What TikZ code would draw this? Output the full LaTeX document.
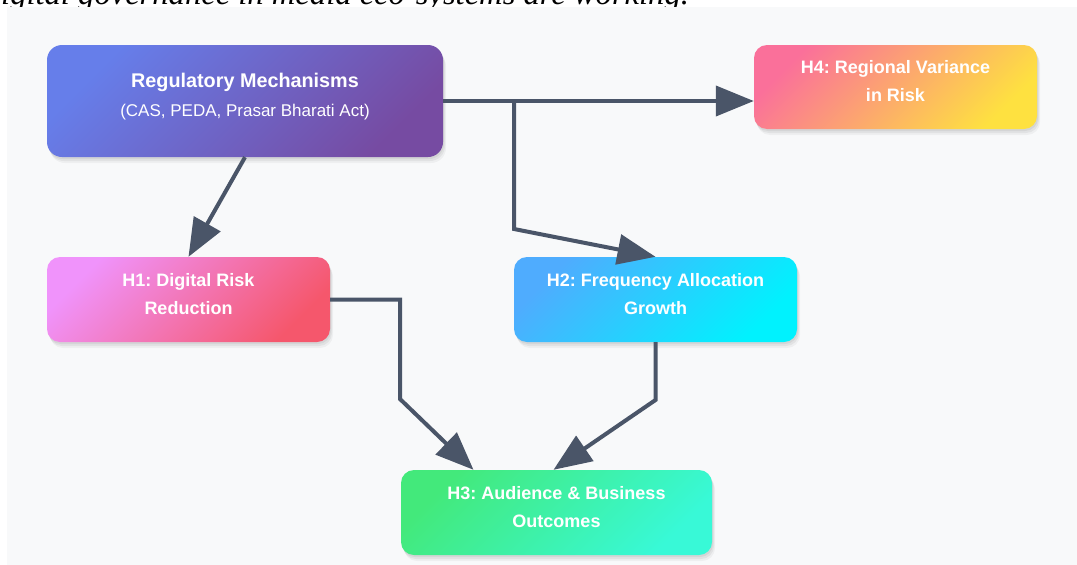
\documentclass[tikz,border=0pt]{standalone}
\usepackage{fontspec}
\setmainfont{Liberation Sans}
\newfontfamily\topserif{Liberation Serif}
\usetikzlibrary{arrows.meta,shadows}
\frenchspacing
\definecolor{bgpanel}{HTML}{F8F9FA}
\definecolor{lineC}{HTML}{4A5568}
\definecolor{regA}{HTML}{667EEA}
\definecolor{regB}{HTML}{764BA2}
\definecolor{hfourA}{HTML}{FA709A}
\definecolor{hfourB}{HTML}{FEE140}
\definecolor{honeA}{HTML}{F093FB}
\definecolor{honeB}{HTML}{F5576C}
\definecolor{htwoA}{HTML}{4FACFE}
\definecolor{htwoB}{HTML}{00F2FE}
\definecolor{hthreeA}{HTML}{43E97B}
\definecolor{hthreeB}{HTML}{38F9D7}
\begin{document}
\begin{tikzpicture}[x=1pt,y=-1pt,
  softshadow/.style={
    drop shadow={shadow xshift=1pt, shadow yshift=-2pt, opacity=0.06, fill=black},
    drop shadow={shadow xshift=2pt, shadow yshift=-4pt, opacity=0.05, fill=black},
    drop shadow={shadow xshift=3pt, shadow yshift=-6pt, opacity=0.04, fill=black}},
  box/.style={rectangle, rounded corners=13pt, text=white, align=center,
    minimum width=283pt, minimum height=85pt, inner sep=0pt,
    font=\bfseries\fontsize{18}{27.5}\selectfont,
    text height=29pt, text depth=0pt, shading angle=45, softshadow},
  conn/.style={draw=lineC, line width=4pt, -{Triangle[length=38pt,width=30pt]}}
]
\clip (0,0) rectangle (1077,565);
\node[anchor=base west, inner sep=0pt, font=\topserif\itshape\fontsize{32.6}{32}\selectfont] (caption) at (1,4.3) {igital governance in media eco-systems are working.};
\fill[bgpanel] (7,7) rectangle (1077,565);

\node[box, rounded corners=15pt, minimum width=396pt, minimum height=112pt,
  top color=regA, bottom color=regB, shading angle=45,
  font=\bfseries\fontsize{19.8}{29}\selectfont, text height=30pt, text depth=0pt]
  (reg) at (245,101) {Regulatory Mechanisms\\{\mdseries\fontsize{17}{29}\selectfont (CAS, PEDA, Prasar Bharati Act)}};
\node[box, minimum height=84pt, top color=hfourA, bottom color=hfourB, shading angle=45, text height=28pt]
  (h4) at (895.5,87) {H4: Regional Variance\\in Risk};
\node[box, top color=honeA, bottom color=honeB, shading angle=45]
  (h1) at (188.5,299.5) {H1: Digital Risk\\Reduction};
\node[box, top color=htwoA, bottom color=htwoB, shading angle=45]
  (h2) at (655.5,299.5) {H2: Frequency Allocation\\Growth};
\node[box, minimum width=311pt, top color=hthreeA, bottom color=hthreeB, shading angle=45]
  (h3) at (556.5,512.5) {H3: Audience \& Business\\Outcomes};

\coordinate (split) at (514,101);
\coordinate (bendtwo) at (514,229);
\coordinate (bendone) at (400,299.5);
\coordinate (bendonedown) at (400,399);
\coordinate (bendthree) at (655.5,400);

\draw[conn] (reg.east) -- (reg.east -| h4.west);
\draw[conn] (split) -- (bendtwo) -- (h2.north);
\draw[conn] (reg.south) -- (h1.north);
\draw[conn] (h1.east) -- (bendone) -- (bendonedown) -- ([xshift=-83pt]h3.north);
\draw[conn] (h2.south) -- (bendthree) -- ([xshift=-3pt]h3.north);
\end{tikzpicture}
\end{document}
